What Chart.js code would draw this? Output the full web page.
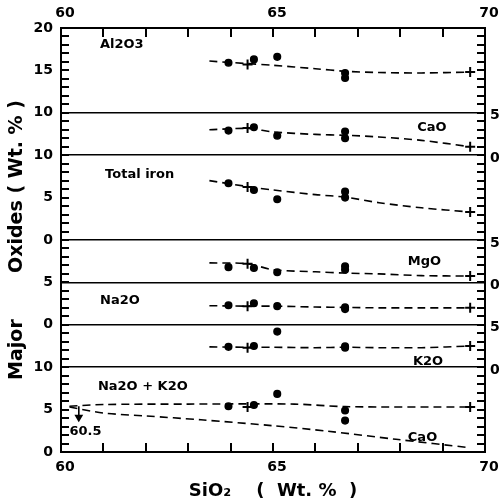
<!DOCTYPE html>
<html>
<head>
<meta charset="utf-8">
<script src="https://cdn.jsdelivr.net/npm/chart.js@4.4.1/dist/chart.umd.min.js"></script>
<style>
  html, body { margin: 0; padding: 0; background: #fff; }
  canvas { display: block; }
</style>
</head>
<body>
<canvas id="myChart" width="499" height="504"></canvas>
<script>
// SiO2 (wt.%) of the samples, same for every oxide panel
const sio2 = [63.95, 64.55, 65.1, 66.7, 66.7];
const al2o3 = [15.9, 16.3, 16.6, 14.7, 14.1];
const cao = [2.9, 3.3, 2.3, 2.8, 2.0];
const totalIron = [6.7, 5.9, 4.8, 5.7, 5.0];
const mgo = [1.8, 1.7, 1.2, 1.9, 1.5];
const na2o = [2.3, 2.55, 2.2, 2.05, 1.85];
const k2o = [2.4, 2.5, 4.2, 2.45, 2.3];
const na2oK2o = [5.4, 5.55, 6.85, 4.9, 3.7];

// "+" marks on the trends
const crossSio2 = [64.4, 69.65];
const al2o3Cross = [15.7, 14.8];
const caoCross = [3.2, 1.0];
const ironCross = [6.25, 3.3];
const mgoCross = [2.2, 0.75];
const na2oCross = [2.2, 2.0];
const k2oCross = [2.3, 2.5];
const na2oK2oCross = [5.3, 5.3];

// dashed trend lines
const trendSio2 = [63.5, 64.4, 65.0, 66.0, 66.7, 67.5, 68.5, 69.65];
const al2o3Trend = [16.1, 15.8, 15.6, 15.2, 14.9, 14.75, 14.7, 14.8];
const caoTrend = [3.0, 3.15, 2.75, 2.45, 2.35, 2.15, 1.75, 1.0];
const ironTrend = [7.0, 6.3, 5.9, 5.35, 5.05, 4.4, 3.8, 3.3];
const mgoTrend = [2.3, 2.2, 1.5, 1.25, 1.1, 1.0, 0.8, 0.75];
const na2oTrend = [2.25, 2.2, 2.2, 2.1, 2.05, 2.0, 2.0, 2.0];
const k2oTrend = [2.4, 2.35, 2.35, 2.3, 2.35, 2.3, 2.3, 2.5];
const na2oK2oTrendSio2 = [60.2, 61, 63, 65.5, 66.7, 69.65];
const na2oK2oTrend = [5.4, 5.6, 5.65, 5.65, 5.35, 5.3];
// lower dashed line in the bottom panel (CaO)
const caoLineSio2 = [60.2, 61, 62, 63.3, 65, 66.3, 67.9, 69.65];
const caoLine = [5.3, 4.6, 4.25, 3.8, 3.1, 2.45, 1.5, 0.5];

// tick labels, on the stacked scale (0 - 50)
const leftTickPos = [0, 5, 10, 15, 20, 25, 30, 35, 40, 45, 50];
const leftTickText = ['0', '5', '10', '0', '5', '0', '5', '10', '10', '15', '20'];
const rightTickPos = [10, 15, 20, 25, 35, 40];
const rightTickText = ['0', '5', '0', '5', '0', '5'];
const xTickText = {60: '60', 65: '65', 70: '70'};

// each panel is shifted up the single stacked y scale
const panels = [
  {shift: 30, samples: al2o3, cross: al2o3Cross, trendX: trendSio2, trend: al2o3Trend},
  {shift: 35, samples: cao, cross: caoCross, trendX: trendSio2, trend: caoTrend},
  {shift: 25, samples: totalIron, cross: ironCross, trendX: trendSio2, trend: ironTrend},
  {shift: 20, samples: mgo, cross: mgoCross, trendX: trendSio2, trend: mgoTrend},
  {shift: 15, samples: na2o, cross: na2oCross, trendX: trendSio2, trend: na2oTrend},
  {shift: 10, samples: k2o, cross: k2oCross, trendX: trendSio2, trend: k2oTrend},
  {shift: 0, samples: na2oK2o, cross: na2oK2oCross, trendX: na2oK2oTrendSio2, trend: na2oK2oTrend}
];
const separators = [10, 15, 20, 25, 35, 40];

const notes = [
  {text: 'Al2O3', x: 60.92, y: 48.0},
  {text: 'CaO', x: 68.4, y: 38.2},
  {text: 'Total iron', x: 61.04, y: 32.7},
  {text: 'MgO', x: 68.18, y: 22.4},
  {text: 'Na2O', x: 60.92, y: 17.9},
  {text: 'K2O', x: 68.3, y: 10.6},
  {text: 'Na2O + K2O', x: 60.87, y: 7.66},
  {text: 'CaO', x: 68.18, y: 1.65},
  {text: '60.5', x: 60.2, y: 2.36}
];

var datasets = [];
panels.forEach(function (p) {
  datasets.push({
    data: p.trendX.map((s, i) => ({x: s, y: p.trend[i] + p.shift})),
    showLine: true,
    borderColor: '#000',
    borderWidth: 1.6,
    borderDash: [8, 5],
    pointRadius: 0,
    tension: 0.3
  });
  datasets.push({
    data: sio2.map((s, i) => ({x: s, y: p.samples[i] + p.shift})),
    pointStyle: 'circle',
    pointRadius: 3.3,
    pointBorderWidth: 1.5,
    pointBorderColor: '#000',
    pointBackgroundColor: '#000'
  });
  datasets.push({
    data: crossSio2.map((s, i) => ({x: s, y: p.cross[i] + p.shift})),
    pointStyle: 'cross',
    pointRadius: 5,
    pointBorderWidth: 2,
    pointBorderColor: '#000'
  });
});
datasets.push({
  data: caoLineSio2.map((s, i) => ({x: s, y: caoLine[i]})),
  showLine: true,
  borderColor: '#000',
  borderWidth: 1.6,
  borderDash: [8, 5],
  pointRadius: 0,
  tension: 0.3
});
// little arrow down to the 60.5 note
datasets.push({
  data: [{x: 60.42, y: 5.4}, {x: 60.42, y: 4.1}],
  showLine: true,
  borderColor: '#000',
  borderWidth: 1.6,
  pointStyle: 'triangle',
  pointRotation: 180,
  pointRadius: [0, 3.5],
  pointBackgroundColor: '#000',
  pointBorderColor: '#000'
});

// panel names, plus the small tick marks pointing into the frame
const overlay = {
  id: 'overlay',
  afterDatasetsDraw(chart) {
    const ctx = chart.ctx;
    const a = chart.chartArea;
    const xs = chart.scales.x;
    const ys = chart.scales.y;
    ctx.save();
    ctx.setLineDash([]);
    ctx.fillStyle = '#000';
    for (let v = 0; v <= 50; v++) {
      const py = Math.round(ys.getPixelForValue(v)) - 1;
      ctx.fillRect(a.left, py, 8, 2);
      ctx.fillRect(a.right - 8, py, 8, 2);
    }
    for (let v = 60; v <= 70; v++) {
      const px = Math.round(xs.getPixelForValue(v)) - 1;
      ctx.fillRect(px, a.bottom - 9, 2, 9);
      ctx.fillRect(px, a.top, 2, 9);
    }
    ctx.font = 'bold 13px "DejaVu Sans"';
    ctx.textBaseline = 'middle';
    ctx.textAlign = 'left';
    notes.forEach(n => ctx.fillText(n.text, xs.getPixelForValue(n.x), ys.getPixelForValue(n.y)));
    ctx.restore();
  }
};

Chart.defaults.font.family = '"DejaVu Sans", sans-serif';
Chart.defaults.font.weight = 'bold';
Chart.defaults.color = '#000';

function xAxis(position, size) {
  return {
    type: 'linear',
    position: position,
    min: 60,
    max: 70,
    afterFit: s => { s.height = size; s.paddingLeft = 0; s.paddingRight = 0; },
    border: {display: true, color: '#000', width: 2},
    grid: {display: false, drawTicks: false},
    ticks: {
      stepSize: 1,
      autoSkip: false,
      maxRotation: 0,
      padding: 6.6,
      labelOffset: 4,
      font: {size: 14, weight: 'bold'},
      callback: v => xTickText[v] || ''
    }
  };
}

var myChart = new Chart(document.getElementById('myChart').getContext('2d'), {
  type: 'scatter',
  data: {datasets: datasets},
  options: {
    responsive: false,
    animation: false,
    layout: {padding: 0},
    plugins: {legend: {display: false}, tooltip: {enabled: false}},
    scales: {
      x: Object.assign(xAxis('bottom', 52), {
        title: {display: true, text: 'SiO₂    (  Wt. %  )', font: {size: 18, weight: 'bold'}, padding: {top: 0, bottom: 2}}
      }),
      x2: xAxis('top', 28),
      y: {
        type: 'linear',
        position: 'left',
        min: 0,
        max: 50,
        afterFit: s => { s.width = 61; },
        border: {display: true, color: '#000', width: 2},
        grid: {
          color: ctx => separators.includes(ctx.tick && ctx.tick.value) ? '#000' : 'rgba(0,0,0,0)',
          lineWidth: 1.6,
          drawTicks: false
        },
        ticks: {
          stepSize: 1,
          autoSkip: false,
          maxTicksLimit: 200,
          padding: 8,
          font: {size: 14, weight: 'bold'},
          callback: v => {
            const i = leftTickPos.indexOf(v);
            return i >= 0 ? leftTickText[i] : '';
          }
        },
        title: {display: true, text: 'Major       Oxides ( Wt. % )', font: {size: 19, weight: 'bold'}, padding: {top: 6, bottom: 0}}
      },
      y2: {
        type: 'linear',
        position: 'right',
        min: 0,
        max: 50,
        afterFit: s => { s.width = 14; },
        border: {display: true, color: '#000', width: 2},
        grid: {drawOnChartArea: false, drawTicks: false},
        ticks: {
          stepSize: 1,
          autoSkip: false,
          maxTicksLimit: 200,
          padding: 5,
          labelOffset: 3,
          font: {size: 14, weight: 'bold'},
          callback: v => {
            const i = rightTickPos.indexOf(v);
            return i >= 0 ? rightTickText[i] : '';
          }
        }
      }
    }
  },
  plugins: [overlay]
});
</script>
</body>
</html>
